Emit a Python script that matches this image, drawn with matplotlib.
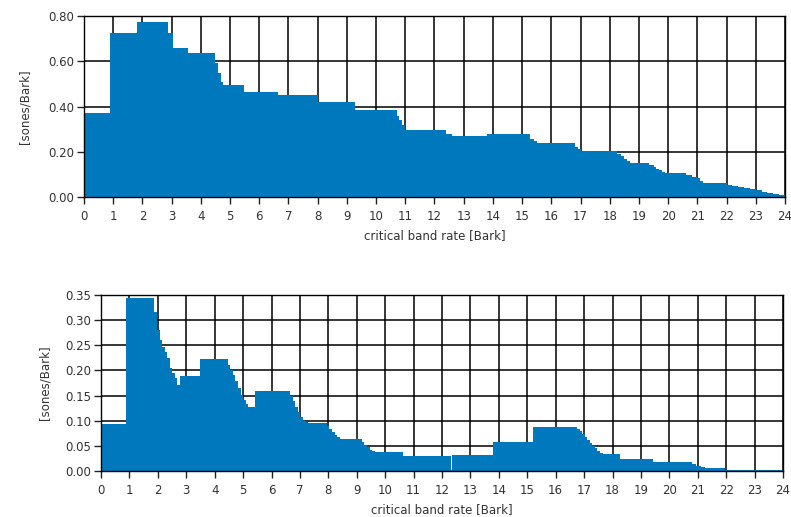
import matplotlib
matplotlib.use("Agg")
import matplotlib.pyplot as plt
import numpy as np

# ---- data: step breakpoints (Bark) and specific loudness values (sones/Bark)
top_z = [0, 0.9, 1.83, 2.89, 3.05, 3.57, 4.5, 4.6, 4.7, 4.77, 5.48, 6.65, 8.0, 9.28,
         10.7, 10.8, 10.9, 11.0, 12.4, 12.6, 13.8, 15.27, 15.4, 15.5, 16.8, 16.9, 17.0,
         18.25, 18.4, 18.5, 18.6, 18.7, 19.35, 19.5, 19.6, 19.7, 19.8, 19.9, 20.6, 20.8,
         21.0, 21.1, 21.2, 21.9, 22.0, 22.2, 22.4, 22.6, 22.8, 23.0, 23.2, 23.4, 23.6,
         23.8, 24.0]
top_v = [0.372, 0.727, 0.773, 0.727, 0.660, 0.635, 0.593, 0.546, 0.510, 0.496, 0.462,
         0.449, 0.418, 0.384, 0.360, 0.340, 0.318, 0.295, 0.278, 0.268, 0.280, 0.255,
         0.247, 0.239, 0.222, 0.211, 0.204, 0.190, 0.180, 0.170, 0.160, 0.152, 0.143,
         0.133, 0.125, 0.118, 0.112, 0.106, 0.098, 0.090, 0.082, 0.072, 0.064, 0.060,
         0.054, 0.049, 0.044, 0.039, 0.034, 0.029, 0.024, 0.019, 0.014, 0.008, 0.004]

bot_z = [0, 0.88, 1.88, 1.97, 2.06, 2.15, 2.24, 2.33, 2.42, 2.51, 2.6, 2.69, 2.79, 3.49,
         4.46, 4.55, 4.64, 4.73, 4.82, 4.91, 5.0, 5.09, 5.18, 5.27, 5.43, 6.66, 6.75,
         6.84, 6.93, 7.02, 7.11, 7.2, 7.29, 7.95, 8.04, 8.13, 8.22, 8.31, 8.4, 8.5, 9.18,
         9.27, 9.36, 9.45, 9.54, 9.63, 10.63, 12.3, 12.34, 13.8, 15.2, 16.75, 16.84,
         16.93, 17.02, 17.11, 17.2, 17.29, 17.38, 17.47, 17.56, 17.65, 17.79, 18.26,
         19.43, 20.6, 20.8, 20.95, 21.1, 21.25, 21.95, 24.0]
bot_v = [0.0935, 0.345, 0.317, 0.280, 0.261, 0.247, 0.237, 0.224, 0.204, 0.194, 0.184,
         0.171, 0.189, 0.222, 0.210, 0.200, 0.190, 0.178, 0.165, 0.152, 0.141, 0.133,
         0.128, 0.128, 0.160, 0.150, 0.140, 0.128, 0.117, 0.108, 0.100, 0.097, 0.095,
         0.090, 0.084, 0.078, 0.072, 0.067, 0.064, 0.063, 0.058, 0.052, 0.047, 0.042,
         0.039, 0.038, 0.030, 0.0, 0.031, 0.057, 0.088, 0.084, 0.079, 0.073, 0.067,
         0.061, 0.055, 0.050, 0.045, 0.040, 0.036, 0.034, 0.034, 0.024, 0.0185, 0.017,
         0.014, 0.010, 0.007, 0.005, 0.001, 0.001]

x_ticks = list(range(0, 25))
top_yticks = [0.0, 0.2, 0.4, 0.6, 0.8]
bot_yticks = [0.0, 0.05, 0.10, 0.15, 0.20, 0.25, 0.30, 0.35]

FILL = "#0078BE"
TXT = "#333333"

fig = plt.figure(figsize=(7.91, 5.17), dpi=100)
ax1 = fig.add_axes([84 / 791, (517 - 197) / 517, 701 / 791, 181 / 517])
ax2 = fig.add_axes([101 / 791, (517 - 471) / 517, 682 / 791, 176 / 517])


def style(ax, z, v, yticks, ymax, ylpad):
    ax.fill_between(z, v, 0, step="post", color=FILL, linewidth=0, zorder=3)
    ax.set_xlim(0, 24)
    ax.set_ylim(0, ymax)
    ax.set_xticks(x_ticks)
    ax.set_xticklabels([str(t) for t in x_ticks])
    ax.set_yticks(yticks)
    ax.set_yticklabels([f"{t:.2f}" for t in yticks])
    ax.grid(True, color="black", linewidth=1.1, zorder=1)
    ax.set_axisbelow(True)
    for s in ax.spines.values():
        s.set_color("black")
        s.set_linewidth(1.0)
        s.set_zorder(4)
    ax.tick_params(axis="both", direction="out", length=5, width=1,
                   colors="#222222", labelcolor=TXT, labelsize=8.5)
    ax.tick_params(axis="x", pad=4)
    ax.tick_params(axis="y", pad=2)
    ax.set_xlabel("critical band rate [Bark]", fontsize=8.5, color=TXT, labelpad=5)
    ax.set_ylabel("[sones/Bark]", fontsize=8.5, color=TXT, labelpad=ylpad)


style(ax1, top_z, top_v, top_yticks, 0.8, 12)
style(ax2, bot_z, bot_v, bot_yticks, 0.35, 10)

fig.savefig("out.png", dpi=100)
